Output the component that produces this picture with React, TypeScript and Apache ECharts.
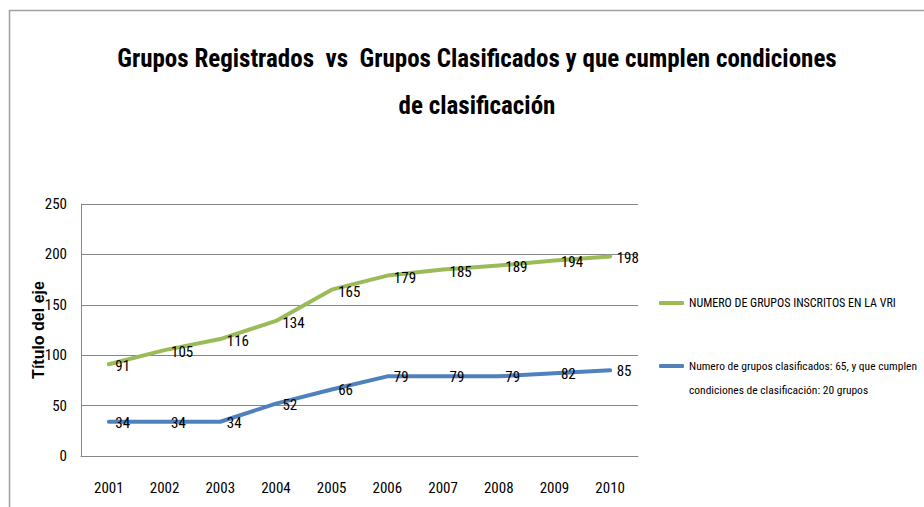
import React, { useEffect, useRef } from "react";
import * as echarts from "echarts";

const years = ["2001", "2002", "2003", "2004", "2005", "2006", "2007", "2008", "2009", "2010"];
const inscritos = [91, 105, 116, 134, 165, 179, 185, 189, 194, 198];
const clasificados = [34, 34, 34, 52, 66, 79, 79, 79, 82, 85];
const nameInscritos = "NUMERO DE GRUPOS INSCRITOS EN LA VRI";
const nameClasificados = "Numero de grupos clasificados: 65, y que cumplen\ncondiciones de clasificación: 20 grupos";
const titleText = "Grupos Registrados  vs  Grupos Clasificados y que cumplen condiciones\nde clasificación";

const NARROW = "Roboto Condensed";

export default function App() {
  const ref = useRef<HTMLDivElement>(null);
  useEffect(() => {
    if (!ref.current) return;
    const chart = echarts.init(ref.current, undefined, { renderer: "svg" });
    const labelStyle = (dy: number) => ({
      show: true,
      position: "right",
      distance: 6,
      offset: [0, dy],
      fontFamily: NARROW,
      fontSize: 15,
      color: "#000",
    });
    chart.setOption({
      animation: false,
      backgroundColor: "#ffffff",
      title: {
        text: titleText,
        left: 472,
        textAlign: "center",
        top: 30,
        textStyle: {
          fontFamily: NARROW,
          fontWeight: "bold",
          fontSize: 25,
          lineHeight: 47,
          color: "#000000",
        },
      },
      graphic: [
        {
          type: "rect",
          shape: { x: 9.5, y: 10.5, width: 1000, height: 600 },
          style: { fill: "none", stroke: "#a0a0a0", lineWidth: 1.5 },
          silent: true,
          z: -1,
        },
      ],
      legend: [
        {
          data: [nameInscritos],
          left: 659,
          top: 295,
          padding: 0,
          itemWidth: 25,
          itemHeight: 4,
          icon: "roundRect",
          itemGap: 0,
          textStyle: { fontFamily: NARROW, fontSize: 12, lineHeight: 16, color: "#000" },
        },
        {
          data: [nameClasificados],
          formatter: (n: string) => "\n" + n,
          left: 659,
          top: 330,
          padding: 0,
          itemWidth: 25,
          itemHeight: 4,
          icon: "roundRect",
          itemGap: 0,
          textStyle: {
            fontFamily: NARROW,
            fontSize: 11.5,
            lineHeight: 24,
            color: "#000",
          },
        },
      ],
      grid: { left: 81, right: 286, top: 204, bottom: 51, containLabel: false },
      xAxis: {
        type: "category",
        data: years,
        boundaryGap: true,
        axisLine: { show: true, lineStyle: { color: "#868686", width: 1 } },
        axisTick: { show: false },
        axisLabel: { fontFamily: NARROW, fontSize: 15, color: "#000", margin: 24 },
      },
      yAxis: {
        type: "value",
        min: 0,
        max: 250,
        interval: 50,
        name: "Título del eje",
        nameLocation: "middle",
        nameGap: 35,
        nameRotate: 90,
        nameMoveOverlap: false,
        nameTextStyle: { fontFamily: "Liberation Sans", fontWeight: "bold", fontSize: 16, color: "#000" },
        axisLine: { show: true, lineStyle: { color: "#868686", width: 1 } },
        axisTick: { show: false },
        splitLine: { show: true, lineStyle: { color: "#868686", width: 1 } },
        axisLabel: { fontFamily: NARROW, fontSize: 15, color: "#000", margin: 14 },
      },
      series: [
        {
          name: nameInscritos,
          type: "line",
          data: inscritos,
          symbol: "circle",
          symbolSize: 1,
          showSymbol: true,
          color: "#9BBB59",
          lineStyle: { color: "#9BBB59", width: 4, cap: "round", join: "round" },
          label: labelStyle(2),
        },
        {
          name: nameClasificados,
          type: "line",
          data: clasificados,
          symbol: "circle",
          symbolSize: 1,
          showSymbol: true,
          color: "#4F81BD",
          lineStyle: { color: "#4F81BD", width: 4, cap: "round", join: "round" },
          label: labelStyle(1),
        },
      ],
    });
    return () => chart.dispose();
  }, []);
  return <div ref={ref} style={{ width: 924, height: 507, position: "absolute", left: 0, top: 0 }} />;
}
